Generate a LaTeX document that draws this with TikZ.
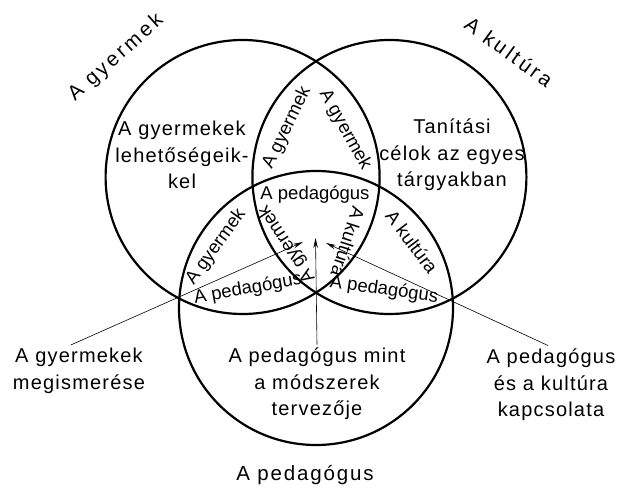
\documentclass[tikz,border=0pt]{standalone}
\usepackage{fontspec}
\setmainfont{Liberation Sans}
\newfontfamily\widefont{Liberation Sans}[LetterSpace=6]
\newfontfamily\titlefont{Liberation Sans}[LetterSpace=15]
\newfontfamily\basefont{Liberation Sans}[LetterSpace=9]
\usetikzlibrary{arrows.meta}

\begin{document}
\begin{tikzpicture}[x=1pt, y=-1pt,
    ring/.style={draw, circle, line width=2.2pt, minimum size=274pt, inner sep=0pt},
    area/.style={align=center, font=\widefont\fontsize{20}{26.5}\selectfont},
    title/.style={font=\titlefont\fontsize{20.5}{24}\selectfont},
    part/.style={font=\fontsize{18.5}{20}\selectfont, inner sep=1pt},
    lead/.style={-{Stealth[length=10pt, width=4.5pt]}, line width=0.6pt}
]
\useasboundingbox (0,0) rectangle (621,489);

% Körök
\node[ring] (gyc) at (242.6,177) {};
\node[ring] (kuc) at (389.4,177) {};
\node[ring] (pec) at (316,308) {};

% Körök nevei
\node[title, rotate=42] (tgy) at (116,58) {A gyermek};
\node[title, rotate=-36] (tku) at (509,52) {A kultúra};
\node[title, font=\basefont\fontsize{20.5}{24}\selectfont] (tpe) at (305,475) {A pedagógus};

% Területek
\node[area] (lehet) at (182,155) {A gyermekek\\lehetőségeik-\\kel};
\node[area] (cel) at (452,155) {Tanítási\\célok az egyes\\tárgyakban};
\node[area] (terv) at (317,384) {A pedagógus mint\\a módszerek\\tervezője};

% Metszetek
\node[part, rotate=64] (m1) at (287,128) {A gyermek};
\node[part, rotate=-61] (m2) at (345,130) {A gyermek};
\node[part] (m3) at (315,195) {A pedagógus};
\node[part, rotate=123] (m4) at (287,244) {A gyermek};
\node[part, rotate=-108] (m5) at (348,242) {A kultúra};
\node[part, rotate=54] (m6) at (216,247) {A gyermek};
\node[part, rotate=10] (m7) at (248,289) {A pedagógus};
\node[part, rotate=-53] (m8) at (412,242) {A kultúra};
\node[part, rotate=-8] (m9) at (384,290) {A pedagógus};

% Magyarázatok
\node[area] (ismer) at (79,371) {A gyermekek\\megismerése};
\node[area] (kapcs) at (551,385) {A pedagógus\\és a kultúra\\kapcsolata};

\coordinate (tipL) at (303,242);
\coordinate (tipM) at (315.5,238);
\coordinate (tipR) at (326,243);

\draw[lead] ([xshift=-8pt]ismer.north) -- (tipL);
\draw[lead] (terv.north) -- (tipM);
\draw[lead] ([xshift=-3pt]kapcs.north) -- (tipR);

\end{tikzpicture}
\end{document}
